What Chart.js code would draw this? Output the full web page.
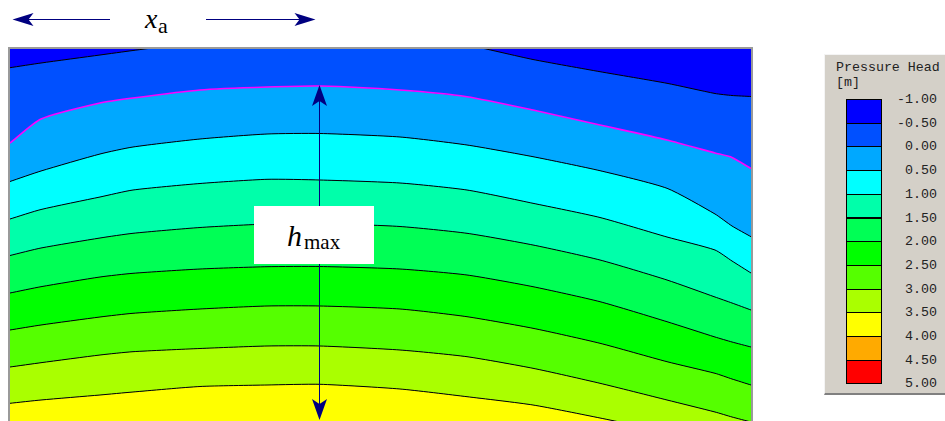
<!DOCTYPE html>
<html>
<head>
<meta charset="utf-8">
<script src="https://cdn.jsdelivr.net/npm/chart.js@4.4.1/dist/chart.umd.min.js"></script>
<style>
  body { margin: 0; background: #fff; }
  #wrap { position: relative; width: 945px; height: 421px; overflow: hidden; }
  #c { position: absolute; left: 0; top: 0; }
  .box { position: absolute; background: #fff; }
  .serif { position: absolute; font-family: "Liberation Serif", "Times New Roman", serif; line-height: 1; color: #000; white-space: nowrap; }
  #legend { position: absolute; left: 824px; top: 54px; width: 130px; height: 338px; background: #d4d0c8;
            border-left: 1px solid #f4f4f4; border-top: 1px solid #f4f4f4; border-bottom: 2px solid #808080; }
  .mono { position: absolute; font-family: "Liberation Mono", "Courier New", monospace; font-size: 13.3px; line-height: 15px; color: #222; white-space: nowrap; }
  .sw { position: absolute; left: 846px; width: 34px; border: 1px solid #000; box-sizing: content-box; }
</style>
</head>
<body>
<div id="wrap">
  <canvas id="c" width="945" height="421"></canvas>
  <div class="box" style="left:110px;top:0;width:96px;height:47px;"></div>
  <div class="serif" style="left:145px;top:5px;font-size:28px;font-style:italic;">x</div>
  <div class="serif" style="left:158px;top:15px;font-size:22px;">a</div>
  <div class="box" style="left:254px;top:206px;width:120px;height:58px;"></div>
  <div class="serif" style="left:287px;top:221px;font-size:30px;font-style:italic;">h</div>
  <div class="serif" style="left:304px;top:232px;font-size:21px;">max</div>
  <div id="legend"></div>
</div>
<script>
// distance along the section (x) and depth below the top of the section (y)
const xPos = [0, 31, 90, 123, 190, 257, 310, 390, 457, 523, 590, 657, 705, 722, 741];

// contour lines of pressure head, h = -0.5 ... 3.5 m
const contourM050 = [18.7, 14, 6, 1.5, -7, -13, -16, -13, -4, 10.5, 22.7, 34.3, 44.5, 46.5, 47.5];
const contour000 = [94, 70, 54, 49, 41, 38, 37, 41, 47.7, 61, 76, 91, 104, 108.5, 119.5];
const contour050 = [132.5, 122, 105, 98, 90, 85, 84.5, 88, 96, 107.7, 121.7, 139.3, 165, 177, 187.7];
const contour100 = [170, 160.5, 148, 141, 134.5, 130.3, 131, 134, 141, 154.3, 168.5, 188, 201, 212, 224];
const contour150 = [206.5, 199, 189, 184.3, 178.5, 175, 174.5, 177.5, 184.3, 196, 211, 231, 248, 254, 261];
const contour200 = [244, 237.7, 228, 224.3, 220, 217.7, 217.5, 220, 226, 237.7, 252.7, 272.7, 288, 293, 298];
const contour250 = [281, 276, 268, 264.3, 260, 257, 257, 260, 267.7, 279.3, 294.3, 312.7, 324.3, 330, 336];
const contour300 = [318, 313.7, 306, 302.7, 299.5, 297, 297, 301, 307.7, 319.3, 334.3, 351, 363, 368, 373];
const contour350 = [354.3, 351, 346, 343, 337.5, 336, 335.3, 340, 347.7, 356, 369, 383, 394, 398, 403];

const legendLabels = ['-1.00', '-0.50', '0.00', '0.50', '1.00', '1.50', '2.00', '2.50', '3.00', '3.50', '4.00', '4.50', '5.00'];
const hmaxX = 309;
const sectionWidth = 741;
const sectionDepth = 372;

const bandColors = ['#0000ff', '#0050ff', '#00a8ff', '#00ffff', '#00ffaa', '#00ff55',
                    '#00ff00', '#55ff00', '#aaff00', '#ffff00', '#ffaa00', '#ff0000'];

const contours = [contourM050, contour000, contour050, contour100, contour150,
                  contour200, contour250, contour300, contour350];

const datasets = contours.map((vals, i) => ({
  data: xPos.map((x, j) => ({ x: x, y: vals[j] })),
  borderColor: i === 1 ? '#ff00ff' : '#000000',
  borderWidth: i === 1 ? 1.6 : 1,
  backgroundColor: bandColors[i + 1],
  fill: i < contours.length - 1 ? '+1' : { value: sectionDepth },
  pointRadius: 0,
  tension: 0.2
}));

function arrowHead(ctx, tx, ty, dx, dy, len, half, notch) {
  const px = -dy, py = dx;
  ctx.beginPath();
  ctx.moveTo(tx, ty);
  ctx.lineTo(tx + dx * len + px * half, ty + dy * len + py * half);
  ctx.lineTo(tx + dx * (len - notch), ty + dy * (len - notch));
  ctx.lineTo(tx + dx * len - px * half, ty + dy * len - py * half);
  ctx.closePath();
  ctx.fill();
}

function valueAt(arr, x) {
  for (let i = 0; i < xPos.length - 1; i++) {
    if (x >= xPos[i] && x <= xPos[i + 1]) {
      const t = (x - xPos[i]) / (xPos[i + 1] - xPos[i]);
      return arr[i] + t * (arr[i + 1] - arr[i]);
    }
  }
  return arr[0];
}

const sectionPlugin = {
  id: 'section',
  beforeDraw(chart) {
    const { ctx, chartArea: a } = chart;
    ctx.save();
    ctx.fillStyle = bandColors[0];
    ctx.fillRect(a.left, a.top, a.right - a.left, a.bottom - a.top);
    ctx.restore();
  },
  afterDraw(chart) {
    const { ctx, chartArea: a, scales } = chart;
    ctx.save();
    // frame
    ctx.strokeStyle = '#9a9a9a';
    ctx.lineWidth = 2;
    ctx.strokeRect(a.left - 1, a.top - 1, a.right - a.left + 2, a.bottom - a.top + 2);

    ctx.strokeStyle = '#000080';
    ctx.fillStyle = '#000080';
    ctx.lineWidth = 1;

    // vertical h_max arrow
    const ax = Math.round(scales.x.getPixelForValue(hmaxX)) + 0.5;
    const topY = scales.y.getPixelForValue(valueAt(contour000, hmaxX)) - 1;
    const botY = a.bottom - 1;
    ctx.beginPath();
    ctx.moveTo(ax, topY + 10);
    ctx.lineTo(ax, botY - 10);
    ctx.stroke();
    arrowHead(ctx, ax, topY, 0, 1, 21, 7.5, 5);
    arrowHead(ctx, ax, botY, 0, -1, 21, 7.5, 5);

    // horizontal x_a arrow
    const y0 = 19.5;
    const lx = a.left + 2.5;
    const rx = ax - 4;
    ctx.beginPath();
    ctx.moveTo(lx + 10, y0);
    ctx.lineTo(rx - 10, y0);
    ctx.stroke();
    arrowHead(ctx, lx, y0, 1, 0, 21, 6.5, 5);
    arrowHead(ctx, rx, y0, -1, 0, 21, 6.5, 5);
    ctx.restore();
  }
};

new Chart(document.getElementById('c').getContext('2d'), {
  type: 'line',
  data: { datasets: datasets },
  options: {
    responsive: false,
    animation: false,
    devicePixelRatio: 1,
    layout: { padding: { left: 10, top: 49, right: 194, bottom: 0 } },
    scales: {
      x: { type: 'linear', min: 0, max: sectionWidth, display: false },
      y: { type: 'linear', min: 0, max: sectionDepth, reverse: true, display: false }
    },
    plugins: {
      legend: { display: false },
      tooltip: { enabled: false },
      filler: { drawTime: 'beforeDatasetsDraw' }
    }
  },
  plugins: [sectionPlugin]
});

// colour legend
const wrap = document.getElementById('wrap');
function addDiv(cls, style, text) {
  const d = document.createElement('div');
  d.className = cls;
  d.setAttribute('style', style);
  if (text) d.textContent = text;
  wrap.appendChild(d);
}
addDiv('mono', 'left:836px;top:60px;', 'Pressure Head');
addDiv('mono', 'left:836px;top:75px;', '[m]');
const swTop = 99.5, swH = 23.7;
for (let i = 0; i < bandColors.length; i++) {
  addDiv('sw', 'top:' + (swTop + i * swH - 0.5) + 'px;height:' + (swH - 1) + 'px;background:' + bandColors[i] + ';');
}
legendLabels.forEach((lab, i) => {
  addDiv('mono', 'left:880px;width:57px;text-align:right;top:' + (swTop + i * swH - 7.5) + 'px;', lab);
});
</script>
</body>
</html>
